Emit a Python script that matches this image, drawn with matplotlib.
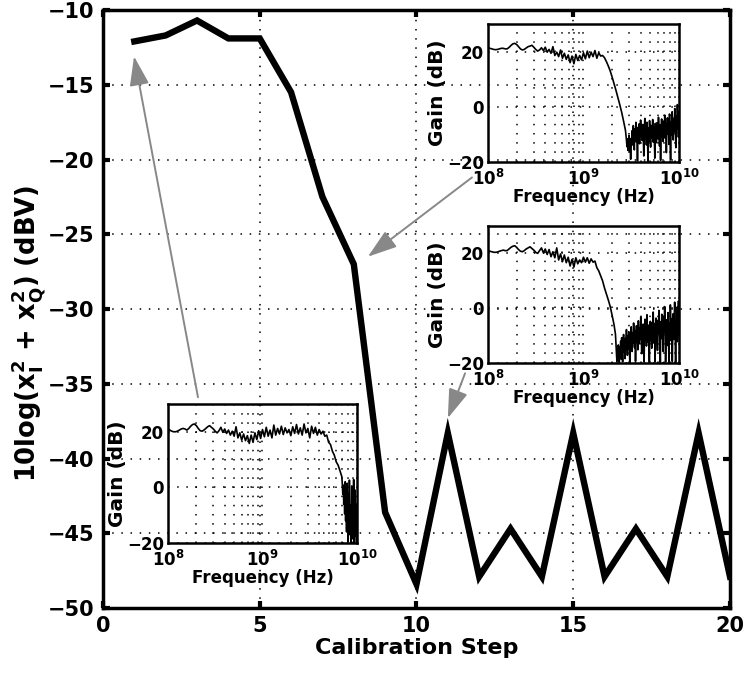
import numpy as np
import matplotlib
matplotlib.use("Agg")
import matplotlib.pyplot as plt

plt.rcParams['font.family'] = ['DejaVu Sans']
plt.rcParams['font.weight'] = 'bold'
plt.rcParams['mathtext.fontset'] = 'dejavusans'
plt.rcParams['mathtext.default'] = 'bf'
plt.rcParams['axes.unicode_minus'] = True

# ---- main curve: residual power after each calibration step ----
steps = list(range(1, 21))
power_dbv = [-12.1, -11.7, -10.7, -11.9, -11.9, -15.5, -22.5, -27.0, -43.6, -48.4,
             -38.3, -47.9, -44.7, -47.9, -38.3, -47.9, -44.7, -47.9, -38.3, -47.9]

x_ticks = [0, 5, 10, 15, 20]
y_ticks = [-50, -45, -40, -35, -30, -25, -20, -15, -10]

# ---- inset frequency responses (gain in dB) ----
# passband part sampled every 0.02 decade from 1e8 Hz,
# noisy stop-band part sampled every 0.005 decade up to 1e10 Hz
pass_step = 0.02

gain_top_pass = [
    21.4, 21.2, 21.0, 20.8, 20.7, 20.8, 21.0, 21.2, 21.2, 21.0,
    21.0, 21.5, 22.2, 22.8, 23.0, 22.6, 21.8, 21.0, 20.6, 20.8,
    21.3, 21.8, 22.0, 22.3, 21.6, 20.8, 20.2, 20.6, 21.4, 20.4,
    21.6, 19.8, 20.8, 19.4, 21.8, 18.6, 19.8, 18.2, 20.6, 17.6,
    19.4, 17.2, 18.8, 16.0, 18.4, 15.6, 19.0, 16.8, 18.6, 17.0,
    19.6, 17.4, 20.2, 17.8, 19.8, 18.2, 20.4, 17.6, 19.6, 18.4,
    18.6, 17.8, 16.4, 14.8, 13.0, 10.8, 8.4, 6.0, 3.4, 0.8,
    -2.0, -5.2, -8.6,
]
gain_top_stop_start = 9.45
gain_top_stop = [
    -12.0, -14.5, -11.6, -15.8, -13.2, -10.4, -16.2, -12.0, -19.0, -11.4,
    -14.0, -8.6, -12.4, -6.8, -11.0, -15.6, -8.0, -10.6, -5.6, -12.8,
    -9.2, -19.6, -7.4, -11.8, -6.2, -13.4, -9.0, -4.8, -10.6, -7.8,
    -12.2, -6.4, -9.8, -17.8, -8.2, -4.2, -11.6, -7.0, -13.8, -5.6,
    -10.0, -19.8, -7.6, -12.4, -5.0, -9.4, -14.6, -6.8, -11.2, -8.4,
    -4.6, -12.8, -7.2, -10.2, -18.6, -6.0, -9.6, -13.0, -5.8, -8.8,
    -11.6, -3.8, -9.0, -14.2, -6.6, -19.4, -8.0, -4.4, -10.8, -7.0,
    -12.6, -5.2, -8.6, -3.0, -11.4, -6.4, -16.6, -7.8, -4.0, -9.8,
    -6.0, -13.6, -2.6, -8.4, -19.2, -5.4, -10.2, -1.8, -7.6, -12.0,
    -4.2, -9.0, -0.6, -6.8, -14.8, -3.4, -8.0, 0.8, -5.6, -11.0,
    -2.0,
]

gain_mid_pass = [
    21.0, 20.8, 20.6, 20.4, 20.4, 20.5, 20.8, 21.0, 21.2, 21.0,
    21.0, 21.6, 22.2, 22.6, 22.8, 22.2, 21.4, 20.8, 20.6, 21.0,
    21.6, 22.0, 22.4, 21.8, 21.2, 20.4, 20.0, 21.0, 22.0, 20.2,
    21.6, 19.6, 21.4, 18.8, 20.6, 18.4, 22.0, 17.6, 19.8, 17.0,
    19.4, 16.6, 18.6, 15.4, 17.8, 15.0, 18.4, 16.2, 17.6, 16.6,
    18.6, 16.8, 18.4, 16.4, 18.0, 16.8, 17.2, 14.8, 13.6, 11.8,
    10.0, 7.4, 5.2, 3.0, 0.6, -2.6, -6.0,
]
gain_mid_stop_start = 9.335
gain_mid_stop = [
    -9.5, -13.0, -16.5, -19.4, -15.6, -18.8, -13.4, -17.0, -19.8, -14.2,
    -16.8, -12.0, -18.6, -10.8, -15.4, -19.6, -13.2, -9.6, -16.0, -12.4,
    -18.4, -11.0, -14.6, -7.8, -13.0, -17.2, -10.2, -15.0, -8.6, -12.6,
    -19.8, -9.4, -13.8, -6.8, -11.6, -15.8, -9.0, -12.8, -5.4, -10.4,
    -14.4, -8.2, -19.4, -10.6, -6.4, -12.2, -8.8, -15.2, -4.6, -10.0,
    -13.0, -7.4, -11.4, -3.2, -9.2, -16.6, -7.0, -12.0, -5.8, -9.8,
    -19.6, -8.0, -4.0, -11.0, -6.6, -13.8, -2.4, -9.0, -12.4, -6.2,
    -10.4, -19.8, -7.6, -4.8, -11.8, -8.4, -14.6, -5.2, -9.6, -1.4,
    -8.2, -12.8, -5.6, -19.6, -9.2, -3.6, -10.8, -7.0, -15.4, -4.4,
    -9.0, -0.8, -6.8, -12.6, -19.8, -5.0, -8.6, -2.2, -11.2, -6.4,
    -15.8, -3.0, -8.8, 0.6, -6.0, -19.6, -10.0, -4.2, -7.4, -13.6,
    -1.6, -8.2, -19.8, -5.4, -10.6, 1.2, -6.8, -12.0, -3.8, -19.4,
    -8.6, -2.0, -11.4, -5.8, 2.2, -9.4, -19.8, -4.6, -7.2, 0.4,
    -12.2, -6.0, 2.6, -8.8,
]

gain_low_pass = [
    21.0, 20.6, 20.2, 20.0, 20.0, 20.2, 20.6, 21.0, 21.2, 21.0,
    20.6, 21.2, 22.0, 22.6, 22.8, 22.2, 21.2, 20.4, 20.2, 20.6,
    21.2, 21.8, 22.2, 21.6, 21.0, 20.2, 19.6, 20.4, 21.6, 19.8,
    21.0, 19.4, 20.6, 18.8, 20.2, 18.4, 21.8, 17.8, 19.6, 17.0,
    19.2, 16.8, 18.6, 15.8, 18.8, 16.2, 19.6, 17.2, 20.4, 17.6,
    20.8, 18.2, 21.6, 18.4, 20.6, 17.8, 22.4, 18.8, 21.2, 19.2,
    22.0, 19.0, 21.4, 19.6, 20.8, 18.6, 21.8, 19.4, 22.6, 19.2,
    21.4, 18.8, 22.8, 19.6, 21.2, 17.8, 22.0, 19.4, 21.6, 18.8,
    20.8, 19.2, 20.2, 18.4, 18.8, 16.2, 15.4, 13.0, 11.6, 9.2,
    8.0, 6.0, 3.8,
]
gain_low_stop_start = 9.845
gain_low_stop = [
    1.0, -2.5, 0.8, -6.0, -1.5, -9.5, 2.0, -12.0, -4.0, -16.0,
    1.5, -8.0, -19.5, -2.0, -13.5, 2.6, -17.0, -6.5, -20.0, -10.0,
    0.5, -18.5, -4.5, -15.0, 2.8, -19.8, -9.0, -1.0, -17.5, -12.5,
    -20.0, -6.0,
]

inset_ticks = [-20, 0, 20]

grid_style = dict(color='black', linestyle=(0, (1, 5)), linewidth=1.1)

fig = plt.figure(figsize=(7.49, 6.77), dpi=100)
ax = fig.add_axes([0.1375, 0.1019, 0.8371, 0.8833])

ax.plot(steps, power_dbv, color='black', linewidth=4.6, solid_joinstyle='miter',
        zorder=3)
ax.set_xlim(0, 20)
ax.set_ylim(-50, -10)
ax.set_xticks(x_ticks)
ax.set_yticks(y_ticks)
ax.grid(True, **grid_style)
ax.tick_params(direction='in', length=5, width=3, top=True, right=True,
               labelsize=15, pad=6)
for s in ax.spines.values():
    s.set_linewidth(2.5)
ax.set_xlabel('Calibration Step', fontsize=16, fontweight='bold', labelpad=1)
ax.set_ylabel(r'10log(x$_{I}^{2}$ + x$_{Q}^{2}$) (dBV)', fontsize=18.5,
              fontweight='bold')
ax.yaxis.set_label_coords(-0.088, 0.46)


def draw_inset(rect, pass_gain, stop_start, stop_gain):
    pass_logf = np.linspace(8.0, 8.0 + pass_step * (len(pass_gain) - 1), len(pass_gain))
    stop_logf = np.linspace(stop_start, 10.0, len(stop_gain))
    logf = np.concatenate([pass_logf, stop_logf])
    gain = np.concatenate([pass_gain, stop_gain])
    ia = fig.add_axes(rect)
    ia.patch.set_alpha(0.0)
    ia.plot(10 ** logf, gain, color='black', linewidth=1.2)
    ia.set_xscale('log')
    ia.set_xlim(1e8, 1e10)
    ia.set_ylim(-20, 30)
    ia.set_yticks(inset_ticks)
    ia.set_xticks([1e8, 1e9, 1e10])
    ia.grid(True, which='major', **grid_style)
    ia.grid(True, which='minor', axis='x', **grid_style)
    ia.tick_params(which='both', direction='in', length=0, labelsize=12)
    ia.tick_params(axis='x', pad=5)
    ia.tick_params(axis='y', pad=3)
    for s in ia.spines.values():
        s.set_linewidth(1.8)
    ia.set_xlabel('Frequency (Hz)', fontsize=12, fontweight='bold', labelpad=-1)
    ia.set_ylabel('Gain (dB)', fontsize=14.5, fontweight='bold', labelpad=0)
    return ia


draw_inset([0.6515, 0.7607, 0.2550, 0.2038], gain_top_pass, gain_top_stop_start,
           gain_top_stop)
draw_inset([0.6515, 0.4638, 0.2550, 0.2024], gain_mid_pass, gain_mid_stop_start,
           gain_mid_stop)
draw_inset([0.2243, 0.1980, 0.2523, 0.2053], gain_low_pass, gain_low_stop_start,
           gain_low_stop)

# arrows from each response to the step it was measured at
arrow_props = dict(arrowstyle='-|>,head_length=1.8,head_width=0.6',
                   color='#888888', lw=1.4, shrinkA=0, shrinkB=0,
                   mutation_scale=10)
ax.annotate('', xy=(0.99, -13.1), xytext=(3.03, -35.9), arrowprops=arrow_props,
            zorder=4)
ax.annotate('', xy=(8.45, -26.5), xytext=(11.77, -21.2), arrowprops=arrow_props,
            zorder=4)
ax.annotate('', xy=(11.0, -37.3), xytext=(11.55, -34.3), arrowprops=arrow_props,
            zorder=4)

fig.savefig('out.png', dpi=100)
